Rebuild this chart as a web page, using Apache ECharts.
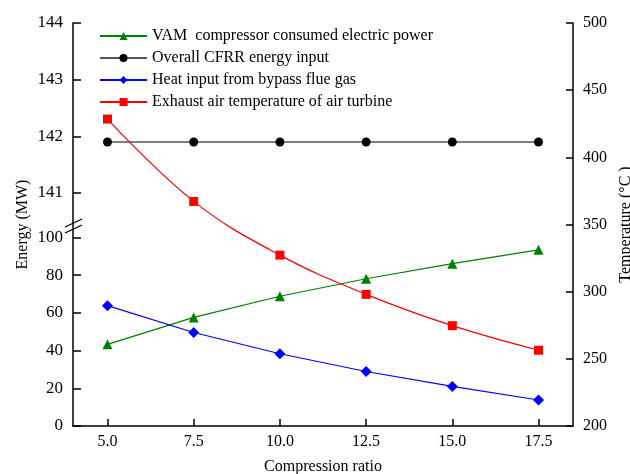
<!DOCTYPE html>
<html>
<head>
<meta charset="utf-8">
<script src="https://cdn.jsdelivr.net/npm/echarts@6/dist/echarts.min.js"></script>
<style>
  html, body { margin: 0; padding: 0; background: #fff; }
  #main { width: 630px; height: 474px; }
</style>
</head>
<body>
<div id="main"></div>
<script>
// data
var ratios = [5.0, 7.5, 10.0, 12.5, 15.0, 17.5];
var vamPower = [43.3, 57.6, 68.8, 78.1, 86.1, 93.4];        // MW
var cfrrInput = [141.9, 141.9, 141.9, 141.9, 141.9, 141.9]; // MW
var bypassHeat = [63.8, 49.6, 38.3, 28.9, 21.0, 13.8];      // MW
var exhaustTemp = [428.5, 367.2, 327.2, 298.0, 274.7, 256.4]; // °C
var xTicks = [5.0, 7.5, 10.0, 12.5, 15.0, 17.5];
var upperTicks = [141, 142, 143, 144];
var lowerTicks = [0, 20, 40, 60, 80, 100];

var names = [
    'VAM  compressor consumed electric power',
    'Overall CFRR energy input',
    'Heat input from bypass flue gas',
    'Exhaust air temperature of air turbine'
];

function pairs(ys) {
    return ratios.map(function (x, i) { return [x, ys[i]]; });
}

var font = 'Liberation Serif';
var txt = { color: '#000', fontFamily: font, fontSize: 16 };
var axLine = { show: true, lineStyle: { color: '#000', width: 1.5 } };
var tickIn = { show: true, inside: true, length: 7, lineStyle: { color: '#000', width: 1.5 } };

var myChart = echarts.init(document.getElementById('main'));
var option = {
    backgroundColor: '#fff',
    animation: false,
    textStyle: { fontFamily: font },
    legend: {
        orient: 'vertical',
        left: 94,
        top: 23,
        itemGap: 6,
        itemWidth: 47,
        itemHeight: 10,
        textStyle: { color: '#000', fontFamily: font, fontSize: 16 },
        data: names
    },
    grid: [
        { left: 73, right: 57, top: 23, height: 204, outerBoundsMode: 'none' },
        { left: 73, right: 57, top: 228, bottom: 48, outerBoundsMode: 'none' },
        { left: 73, right: 57, top: 23, bottom: 48, outerBoundsMode: 'none' }
    ],
    xAxis: [
        { gridIndex: 0, type: 'value', min: 4, max: 18.5, show: false },
        {
            gridIndex: 1, type: 'value', min: 4, max: 18.5,
            name: 'Compression ratio', nameLocation: 'middle', nameGap: 33,
            nameTextStyle: txt,
            axisLine: axLine,
            axisTick: { show: true, inside: true, length: 7, lineStyle: { color: '#000', width: 1.5 }, customValues: xTicks },
            axisLabel: {
                color: '#000', fontFamily: font, fontSize: 16, margin: 8,
                customValues: xTicks,
                formatter: function (v) { return v.toFixed(1); }
            },
            splitLine: { show: false }
        },
        { gridIndex: 2, type: 'value', min: 4, max: 18.5, show: false }
    ],
    yAxis: [
        {
            gridIndex: 0, type: 'value', min: 140.4, max: 144, position: 'left',
            axisLine: axLine,
            axisTick: { show: true, inside: true, length: 8, lineStyle: { color: '#000', width: 1.5 }, customValues: upperTicks },
            axisLabel: { color: '#000', fontFamily: font, fontSize: 17, margin: 10, customValues: upperTicks },
            splitLine: { show: false }
        },
        {
            gridIndex: 1, type: 'value', min: 0, max: 105, position: 'left',
            axisLine: axLine,
            axisTick: { show: true, inside: true, length: 8, lineStyle: { color: '#000', width: 1.5 }, customValues: lowerTicks },
            axisLabel: { color: '#000', fontFamily: font, fontSize: 17, margin: 10, customValues: lowerTicks },
            splitLine: { show: false }
        },
        {
            gridIndex: 2, type: 'value', min: 200, max: 500, interval: 50, position: 'right',
            name: 'Temperature (\u00B0C )', nameLocation: 'middle', nameGap: 40, nameRotate: 90,
            nameTextStyle: txt,
            axisLine: axLine,
            axisTick: tickIn,
            axisLabel: { color: '#000', fontFamily: font, fontSize: 16, margin: 10 },
            splitLine: { show: false }
        },
        {
            gridIndex: 2, type: 'value', min: 0, max: 1, position: 'left',
            name: 'Energy (MW)', nameLocation: 'middle', nameGap: 42,
            nameTextStyle: txt,
            axisLine: { show: false }, axisTick: { show: false },
            axisLabel: { show: false }, splitLine: { show: false }
        }
    ],
    graphic: [
        { type: 'line', shape: { x1: 65, y1: 227, x2: 82, y2: 219 }, style: { stroke: '#000', lineWidth: 1.3 }, z: 100 },
        { type: 'line', shape: { x1: 65, y1: 233, x2: 82, y2: 225 }, style: { stroke: '#000', lineWidth: 1.3 }, z: 100 }
    ],
    series: [
        {
            name: names[0], type: 'line', xAxisIndex: 1, yAxisIndex: 1,
            data: pairs(vamPower),
            symbol: 'triangle', symbolSize: 10,
            itemStyle: { color: '#008000' },
            lineStyle: { color: '#008000', width: 1.2 }
        },
        {
            name: names[1], type: 'line', xAxisIndex: 0, yAxisIndex: 0,
            data: pairs(cfrrInput),
            symbol: 'circle', symbolSize: 9,
            itemStyle: { color: '#000' },
            lineStyle: { color: '#555', width: 1.5 }
        },
        {
            name: names[2], type: 'line', xAxisIndex: 1, yAxisIndex: 1,
            data: pairs(bypassHeat),
            symbol: 'diamond', symbolSize: 11,
            itemStyle: { color: '#0000ff' },
            lineStyle: { color: '#0000ff', width: 1.2 }
        },
        {
            name: names[3], type: 'line', xAxisIndex: 2, yAxisIndex: 2,
            data: pairs(exhaustTemp),
            smooth: 0.4,
            symbol: 'rect', symbolSize: 9,
            itemStyle: { color: '#ff0000' },
            lineStyle: { color: '#ff0000', width: 1.2 }
        }
    ]
};
if (option && typeof option === "object") {
    myChart.setOption(option, true);
}
</script>
</body>
</html>
